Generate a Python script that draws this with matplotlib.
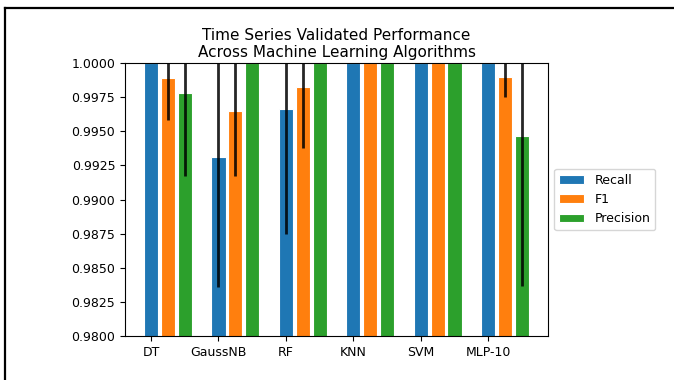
import numpy as np
import matplotlib
matplotlib.use("Agg")
from matplotlib import pyplot as plt
from matplotlib.lines import Line2D

algorithms = ["DT", "GaussNB", "RF", "KNN", "SVM", "MLP-10"]
recall = [1.0, 0.99311, 0.99661, 1.0, 1.0, 1.0]
recall_err = [0.0, 0.0095, 0.00916, 0.0, 0.0, 0.0]
f1 = [0.99889, 0.99648, 0.99824, 1.0, 1.0, 0.99897]
f1_err = [0.0031, 0.00474, 0.0045, 0.0, 0.0, 0.00144]
precision = [0.99780, 1.0, 1.0, 1.0, 1.0, 0.99465]
precision_err = [0.0061, 0.0, 0.0, 0.0, 0.0, 0.0110]

fig = plt.figure(figsize=(6.74, 3.80), dpi=100)
ax = fig.add_axes([125 / 674, 44 / 380, 423 / 674, 273 / 380])

x = np.arange(len(algorithms))
width = 0.21
err_kw = dict(ecolor="black", elinewidth=2, alpha=0.85)
ax.bar(x, recall, width, yerr=recall_err, color="#1f77b4", edgecolor="white",
       linewidth=0.8, label="Recall", error_kw=err_kw)
ax.bar(x + 0.25, f1, width, yerr=f1_err, color="#ff7f0e", edgecolor="white",
       linewidth=0.8, label="F1", error_kw=err_kw)
ax.bar(x + 0.5, precision, width, yerr=precision_err, color="#2ca02c", edgecolor="white",
       linewidth=0.8, label="Precision", error_kw=err_kw)

ax.set_ylim(0.98, 1.0)
ax.set_xlim(-0.385, 5.885)
ax.set_yticks(np.arange(0.98, 1.00001, 0.0025))
ax.set_yticklabels(["%.4f" % v for v in np.arange(0.98, 1.00001, 0.0025)], fontsize=9)
ax.set_xticks(x)
ax.set_xticklabels(algorithms, fontsize=9)
ax.set_title("Time Series Validated Performance\nAcross Machine Learning Algorithms",
             fontsize=11, pad=4)
ax.legend(loc="center left", bbox_to_anchor=(1, 0.5), fontsize=9)

# screenshot frame
fig.add_artist(Line2D([4.5 / 674, 1.0], [1 - 8 / 380, 1 - 8 / 380], color="black", lw=1.6))
fig.add_artist(Line2D([4.5 / 674, 4.5 / 674], [0, 1 - 8 / 380], color="black", lw=1.6))

fig.savefig("out.png", dpi=100)
